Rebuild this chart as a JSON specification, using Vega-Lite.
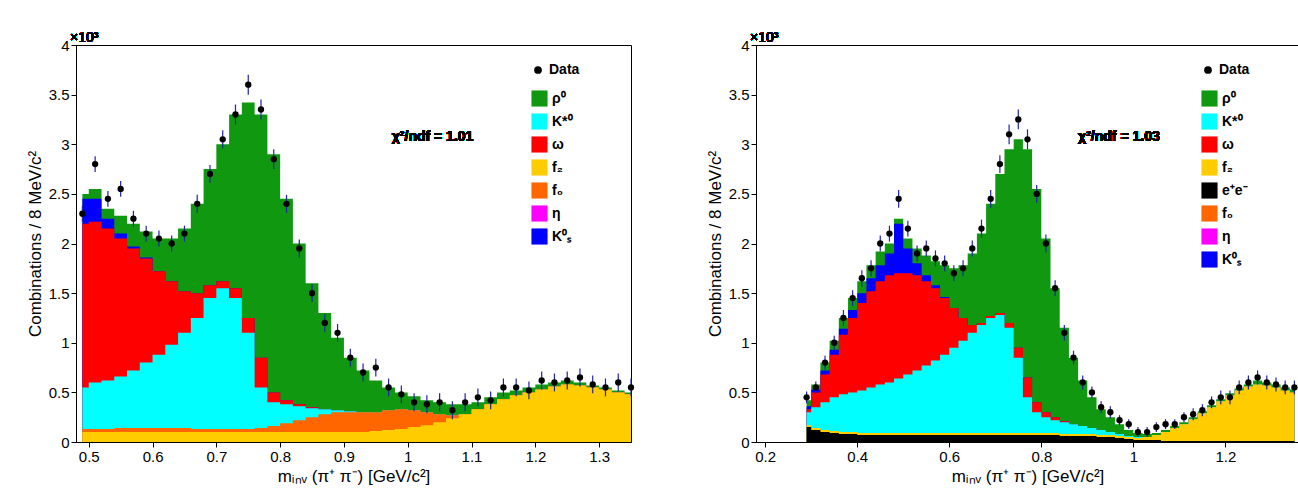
{
  "$schema": "https://vega.github.io/schema/vega-lite/v6.json",
  "padding": {"top": 30, "left": 25, "right": 0, "bottom": 5},
  "spacing": 70,
  "config": {
    "view": {"stroke": "black", "strokeWidth": 1},
    "font": "Liberation Sans",
    "axis": {"grid": false, "domainColor": "black", "tickColor": "black", "labelFontSize": 15, "titleFontSize": 17, "titleFontWeight": "normal", "labelColor": "black", "titleColor": "black"},
    "legend": {"orient": "none", "labelFontSize": 14, "labelFontWeight": "bold", "symbolType": "square", "symbolSize": 260, "symbolStrokeWidth": 0, "rowPadding": 6, "title": null, "padding": 0}
  },
  "resolve": {"scale": {"color": "independent", "shape": "independent"}, "legend": {"color": "independent", "shape": "independent"}},
  "hconcat": [
    {
      "width": 555, "height": 397,
      "data": {"values": [
        {"x":0.49,"f2":0.10,"f0":0.13,"kst":0.55,"om":2.20,"ks":2.45,"rho":2.50,"d":2.30,"e":0.08},
        {"x":0.51,"f2":0.10,"f0":0.13,"kst":0.60,"om":2.22,"ks":2.45,"rho":2.55,"d":2.80,"e":0.08},
        {"x":0.53,"f2":0.10,"f0":0.13,"kst":0.62,"om":2.15,"ks":2.25,"rho":2.35,"d":2.45,"e":0.08},
        {"x":0.55,"f2":0.10,"f0":0.14,"kst":0.66,"om":2.05,"ks":2.10,"rho":2.28,"d":2.55,"e":0.08},
        {"x":0.57,"f2":0.10,"f0":0.14,"kst":0.72,"om":1.95,"ks":1.97,"rho":2.20,"d":2.25,"e":0.08},
        {"x":0.59,"f2":0.10,"f0":0.14,"kst":0.80,"om":1.85,"ks":1.86,"rho":2.12,"d":2.10,"e":0.08},
        {"x":0.61,"f2":0.10,"f0":0.14,"kst":0.88,"om":1.72,"ks":1.72,"rho":2.05,"d":2.05,"e":0.08},
        {"x":0.63,"f2":0.10,"f0":0.14,"kst":0.98,"om":1.62,"ks":1.62,"rho":2.05,"d":2.00,"e":0.08},
        {"x":0.65,"f2":0.10,"f0":0.14,"kst":1.10,"om":1.52,"ks":1.52,"rho":2.15,"d":2.10,"e":0.08},
        {"x":0.67,"f2":0.10,"f0":0.13,"kst":1.25,"om":1.50,"ks":1.50,"rho":2.40,"d":2.40,"e":0.09},
        {"x":0.69,"f2":0.10,"f0":0.13,"kst":1.45,"om":1.58,"ks":1.58,"rho":2.75,"d":2.70,"e":0.09},
        {"x":0.71,"f2":0.10,"f0":0.13,"kst":1.55,"om":1.62,"ks":1.62,"rho":3.00,"d":3.05,"e":0.09},
        {"x":0.73,"f2":0.10,"f0":0.13,"kst":1.45,"om":1.55,"ks":1.55,"rho":3.30,"d":3.30,"e":0.1},
        {"x":0.75,"f2":0.10,"f0":0.13,"kst":1.10,"om":1.25,"ks":1.25,"rho":3.42,"d":3.60,"e":0.1},
        {"x":0.77,"f2":0.10,"f0":0.14,"kst":0.55,"om":0.85,"ks":0.85,"rho":3.30,"d":3.35,"e":0.1},
        {"x":0.79,"f2":0.10,"f0":0.16,"kst":0.40,"om":0.50,"ks":0.50,"rho":2.90,"d":2.85,"e":0.1},
        {"x":0.81,"f2":0.10,"f0":0.19,"kst":0.38,"om":0.42,"ks":0.42,"rho":2.45,"d":2.40,"e":0.09},
        {"x":0.83,"f2":0.10,"f0":0.22,"kst":0.36,"om":0.38,"ks":0.38,"rho":2.00,"d":1.95,"e":0.09},
        {"x":0.85,"f2":0.10,"f0":0.25,"kst":0.34,"om":0.35,"ks":0.35,"rho":1.60,"d":1.50,"e":0.09},
        {"x":0.87,"f2":0.10,"f0":0.28,"kst":0.33,"om":0.33,"ks":0.33,"rho":1.30,"d":1.20,"e":0.09},
        {"x":0.89,"f2":0.10,"f0":0.30,"kst":0.32,"om":0.32,"ks":0.32,"rho":1.05,"d":1.10,"e":0.09},
        {"x":0.91,"f2":0.10,"f0":0.30,"kst":0.31,"om":0.31,"ks":0.31,"rho":0.85,"d":0.85,"e":0.09},
        {"x":0.93,"f2":0.10,"f0":0.30,"kst":0.30,"om":0.30,"ks":0.30,"rho":0.72,"d":0.70,"e":0.09},
        {"x":0.95,"f2":0.11,"f0":0.30,"kst":0.30,"om":0.30,"ks":0.30,"rho":0.62,"d":0.75,"e":0.09},
        {"x":0.97,"f2":0.12,"f0":0.32,"kst":0.32,"om":0.32,"ks":0.32,"rho":0.55,"d":0.55,"e":0.09},
        {"x":0.99,"f2":0.13,"f0":0.33,"kst":0.33,"om":0.33,"ks":0.33,"rho":0.50,"d":0.48,"e":0.09},
        {"x":1.01,"f2":0.15,"f0":0.32,"kst":0.32,"om":0.32,"ks":0.32,"rho":0.46,"d":0.40,"e":0.09},
        {"x":1.03,"f2":0.17,"f0":0.30,"kst":0.30,"om":0.30,"ks":0.30,"rho":0.42,"d":0.38,"e":0.09},
        {"x":1.05,"f2":0.20,"f0":0.28,"kst":0.28,"om":0.28,"ks":0.28,"rho":0.40,"d":0.40,"e":0.09},
        {"x":1.07,"f2":0.24,"f0":0.27,"kst":0.27,"om":0.27,"ks":0.27,"rho":0.38,"d":0.32,"e":0.09},
        {"x":1.09,"f2":0.28,"f0":0.28,"kst":0.28,"om":0.28,"ks":0.28,"rho":0.38,"d":0.40,"e":0.09},
        {"x":1.11,"f2":0.33,"f0":0.33,"kst":0.33,"om":0.33,"ks":0.33,"rho":0.40,"d":0.45,"e":0.09},
        {"x":1.13,"f2":0.38,"f0":0.38,"kst":0.38,"om":0.38,"ks":0.38,"rho":0.45,"d":0.42,"e":0.09},
        {"x":1.15,"f2":0.43,"f0":0.43,"kst":0.43,"om":0.43,"ks":0.43,"rho":0.50,"d":0.55,"e":0.09},
        {"x":1.17,"f2":0.47,"f0":0.47,"kst":0.47,"om":0.47,"ks":0.47,"rho":0.52,"d":0.55,"e":0.09},
        {"x":1.19,"f2":0.50,"f0":0.50,"kst":0.50,"om":0.50,"ks":0.50,"rho":0.55,"d":0.52,"e":0.09},
        {"x":1.21,"f2":0.53,"f0":0.53,"kst":0.53,"om":0.53,"ks":0.53,"rho":0.58,"d":0.62,"e":0.09},
        {"x":1.23,"f2":0.56,"f0":0.56,"kst":0.56,"om":0.56,"ks":0.56,"rho":0.60,"d":0.60,"e":0.09},
        {"x":1.25,"f2":0.58,"f0":0.58,"kst":0.58,"om":0.58,"ks":0.58,"rho":0.62,"d":0.62,"e":0.09},
        {"x":1.27,"f2":0.57,"f0":0.57,"kst":0.57,"om":0.57,"ks":0.57,"rho":0.60,"d":0.65,"e":0.09},
        {"x":1.29,"f2":0.55,"f0":0.55,"kst":0.55,"om":0.55,"ks":0.55,"rho":0.57,"d":0.58,"e":0.09},
        {"x":1.31,"f2":0.53,"f0":0.53,"kst":0.53,"om":0.53,"ks":0.53,"rho":0.55,"d":0.55,"e":0.09},
        {"x":1.33,"f2":0.50,"f0":0.50,"kst":0.50,"om":0.50,"ks":0.50,"rho":0.52,"d":0.60,"e":0.09},
        {"x":1.35,"f2":0.48,"f0":0.48,"kst":0.48,"om":0.48,"ks":0.48,"rho":0.50,"d":0.55,"e":0.09}
      ]},
      "layer": [
        {
          "transform": [{"fold": ["rho", "ks", "om", "kst", "f0", "f2"], "as": ["comp", "val"]}],
          "mark": {"type": "area", "interpolate": "step", "clip": true},
          "encoding": {
            "x": {"field": "x", "type": "quantitative", "scale": {"domain": [0.48, 1.35], "nice": false, "zero": false},
                  "axis": {"values": [0.5,0.6,0.7,0.8,0.9,1.0,1.1,1.2,1.3], "format": "~g"}, "title": "mᵢₙᵥ (π⁺ π⁻) [GeV/c²]"},
            "y": {"field": "val", "type": "quantitative", "stack": null, "scale": {"domain": [0, 4], "nice": false},
                  "axis": {"values": [0,0.5,1,1.5,2,2.5,3,3.5,4], "format": "~g"}, "title": "Combinations / 8 MeV/c²"},
            "color": {"field": "comp", "type": "nominal",
                      "scale": {"domain": ["rho","kst","om","f2","f0","eta","ks"], "range": ["#109910","#00ffff","#ff0000","#ffcc00","#ff6600","#ff00ff","#0000ff"]},
                      "legend": {"labelExpr": "{'rho':'ρ⁰','kst':'K*⁰','om':'ω','f2':'f₂','f0':'f₀','eta':'η','ks':'K⁰ₛ'}[datum.label]", "legendX": 455, "legendY": 45}}
          }
        },
        {
          "mark": {"type": "errorbar", "color": "#2222aa", "thickness": 1.2},
          "encoding": {"x": {"field": "x", "type": "quantitative", "title": "mᵢₙᵥ (π⁺ π⁻) [GeV/c²]"}, "y": {"field": "d", "type": "quantitative", "title": "Combinations / 8 MeV/c²"}, "yError": {"field": "e"}}
        },
        {
          "mark": {"type": "point", "filled": true, "size": 40, "opacity": 1},
          "encoding": {"x": {"field": "x", "type": "quantitative", "title": "mᵢₙᵥ (π⁺ π⁻) [GeV/c²]"}, "y": {"field": "d", "type": "quantitative", "title": "Combinations / 8 MeV/c²"},
                       "color": {"value": "black"},
                       "shape": {"datum": "Data", "scale": {"range": ["circle"]}, "legend": {"symbolType": "circle", "symbolSize": 60, "symbolFillColor": "black", "legendX": 455, "legendY": 18}}}
        },
        {
          "mark": {"type": "text", "fontSize": 14, "fontWeight": "bold", "align": "left"},
          "encoding": {"x": {"datum": 0.975}, "y": {"datum": 3.07}, "text": {"value": "χ²/ndf = 1.01"}}
        },
        {
          "mark": {"type": "text", "fontSize": 14, "align": "left", "baseline": "bottom", "dx": -6, "clip": false},
          "encoding": {"x": {"datum": 0.48}, "y": {"datum": 4.0}, "text": {"value": "×10³"}}
        }
      ]
    },
    {
      "width": 543, "height": 397,
      "data": {"values": [
        {"x":0.29,"ee":0.15,"f2":0.17,"kst":0.30,"om":0.33,"ks":0.36,"rho":0.42,"d":0.45,"e":0.06},
        {"x":0.31,"ee":0.12,"f2":0.14,"kst":0.35,"om":0.50,"ks":0.53,"rho":0.58,"d":0.55,"e":0.06},
        {"x":0.33,"ee":0.10,"f2":0.12,"kst":0.40,"om":0.68,"ks":0.72,"rho":0.80,"d":0.80,"e":0.07},
        {"x":0.35,"ee":0.09,"f2":0.11,"kst":0.45,"om":0.88,"ks":0.93,"rho":1.02,"d":1.00,"e":0.07},
        {"x":0.37,"ee":0.08,"f2":0.10,"kst":0.48,"om":1.08,"ks":1.14,"rho":1.25,"d":1.25,"e":0.08},
        {"x":0.39,"ee":0.08,"f2":0.10,"kst":0.50,"om":1.25,"ks":1.33,"rho":1.45,"d":1.45,"e":0.08},
        {"x":0.41,"ee":0.07,"f2":0.09,"kst":0.52,"om":1.40,"ks":1.50,"rho":1.62,"d":1.65,"e":0.08},
        {"x":0.43,"ee":0.07,"f2":0.09,"kst":0.55,"om":1.52,"ks":1.65,"rho":1.78,"d":1.75,"e":0.08},
        {"x":0.45,"ee":0.07,"f2":0.09,"kst":0.58,"om":1.62,"ks":1.78,"rho":1.92,"d":2.00,"e":0.08},
        {"x":0.47,"ee":0.07,"f2":0.09,"kst":0.60,"om":1.68,"ks":1.90,"rho":2.00,"d":2.10,"e":0.08},
        {"x":0.49,"ee":0.07,"f2":0.09,"kst":0.64,"om":1.70,"ks":2.20,"rho":2.25,"d":2.45,"e":0.09},
        {"x":0.51,"ee":0.07,"f2":0.09,"kst":0.68,"om":1.70,"ks":1.95,"rho":2.05,"d":2.15,"e":0.08},
        {"x":0.53,"ee":0.07,"f2":0.09,"kst":0.72,"om":1.68,"ks":1.80,"rho":1.95,"d":1.90,"e":0.08},
        {"x":0.55,"ee":0.07,"f2":0.09,"kst":0.77,"om":1.62,"ks":1.68,"rho":1.88,"d":1.95,"e":0.08},
        {"x":0.57,"ee":0.07,"f2":0.09,"kst":0.82,"om":1.55,"ks":1.58,"rho":1.82,"d":1.85,"e":0.08},
        {"x":0.59,"ee":0.07,"f2":0.09,"kst":0.88,"om":1.45,"ks":1.46,"rho":1.78,"d":1.80,"e":0.08},
        {"x":0.61,"ee":0.07,"f2":0.09,"kst":0.95,"om":1.35,"ks":1.35,"rho":1.75,"d":1.70,"e":0.08},
        {"x":0.63,"ee":0.07,"f2":0.09,"kst":1.02,"om":1.25,"ks":1.25,"rho":1.78,"d":1.75,"e":0.08},
        {"x":0.65,"ee":0.07,"f2":0.09,"kst":1.10,"om":1.18,"ks":1.18,"rho":1.90,"d":1.95,"e":0.08},
        {"x":0.67,"ee":0.07,"f2":0.09,"kst":1.18,"om":1.20,"ks":1.20,"rho":2.10,"d":2.15,"e":0.09},
        {"x":0.69,"ee":0.07,"f2":0.09,"kst":1.25,"om":1.27,"ks":1.27,"rho":2.40,"d":2.45,"e":0.09},
        {"x":0.71,"ee":0.07,"f2":0.09,"kst":1.28,"om":1.30,"ks":1.30,"rho":2.70,"d":2.80,"e":0.09},
        {"x":0.73,"ee":0.07,"f2":0.09,"kst":1.15,"om":1.20,"ks":1.20,"rho":2.95,"d":3.10,"e":0.1},
        {"x":0.75,"ee":0.07,"f2":0.09,"kst":0.85,"om":0.95,"ks":0.95,"rho":3.05,"d":3.25,"e":0.1},
        {"x":0.77,"ee":0.07,"f2":0.09,"kst":0.45,"om":0.65,"ks":0.65,"rho":2.95,"d":3.05,"e":0.1},
        {"x":0.79,"ee":0.07,"f2":0.09,"kst":0.30,"om":0.40,"ks":0.40,"rho":2.55,"d":2.50,"e":0.09},
        {"x":0.81,"ee":0.07,"f2":0.09,"kst":0.25,"om":0.30,"ks":0.30,"rho":2.05,"d":2.00,"e":0.09},
        {"x":0.83,"ee":0.07,"f2":0.09,"kst":0.22,"om":0.25,"ks":0.25,"rho":1.55,"d":1.55,"e":0.08},
        {"x":0.85,"ee":0.06,"f2":0.08,"kst":0.20,"om":0.21,"ks":0.21,"rho":1.15,"d":1.10,"e":0.08},
        {"x":0.87,"ee":0.06,"f2":0.08,"kst":0.18,"om":0.18,"ks":0.18,"rho":0.85,"d":0.85,"e":0.07},
        {"x":0.89,"ee":0.06,"f2":0.08,"kst":0.16,"om":0.16,"ks":0.16,"rho":0.62,"d":0.60,"e":0.07},
        {"x":0.91,"ee":0.06,"f2":0.08,"kst":0.14,"om":0.14,"ks":0.14,"rho":0.45,"d":0.50,"e":0.06},
        {"x":0.93,"ee":0.05,"f2":0.07,"kst":0.12,"om":0.12,"ks":0.12,"rho":0.33,"d":0.35,"e":0.06},
        {"x":0.95,"ee":0.05,"f2":0.07,"kst":0.10,"om":0.10,"ks":0.10,"rho":0.25,"d":0.30,"e":0.06},
        {"x":0.97,"ee":0.04,"f2":0.06,"kst":0.08,"om":0.08,"ks":0.08,"rho":0.18,"d":0.22,"e":0.05},
        {"x":0.99,"ee":0.03,"f2":0.05,"kst":0.06,"om":0.06,"ks":0.06,"rho":0.12,"d":0.18,"e":0.05},
        {"x":1.01,"ee":0.02,"f2":0.04,"kst":0.05,"om":0.05,"ks":0.05,"rho":0.09,"d":0.10,"e":0.05},
        {"x":1.03,"ee":0.02,"f2":0.05,"kst":0.05,"om":0.05,"ks":0.05,"rho":0.08,"d":0.10,"e":0.05},
        {"x":1.05,"ee":0.02,"f2":0.07,"kst":0.07,"om":0.07,"ks":0.07,"rho":0.09,"d":0.15,"e":0.05},
        {"x":1.07,"ee":0.01,"f2":0.10,"kst":0.10,"om":0.10,"ks":0.10,"rho":0.12,"d":0.18,"e":0.05},
        {"x":1.09,"ee":0.01,"f2":0.14,"kst":0.14,"om":0.14,"ks":0.14,"rho":0.16,"d":0.18,"e":0.05},
        {"x":1.11,"ee":0.01,"f2":0.18,"kst":0.18,"om":0.18,"ks":0.18,"rho":0.20,"d":0.25,"e":0.05},
        {"x":1.13,"ee":0.01,"f2":0.23,"kst":0.23,"om":0.23,"ks":0.23,"rho":0.25,"d":0.28,"e":0.06},
        {"x":1.15,"ee":0.01,"f2":0.29,"kst":0.29,"om":0.29,"ks":0.29,"rho":0.31,"d":0.32,"e":0.06},
        {"x":1.17,"ee":0.01,"f2":0.35,"kst":0.35,"om":0.35,"ks":0.35,"rho":0.37,"d":0.40,"e":0.06},
        {"x":1.19,"ee":0.01,"f2":0.41,"kst":0.41,"om":0.41,"ks":0.41,"rho":0.43,"d":0.45,"e":0.07},
        {"x":1.21,"ee":0.01,"f2":0.47,"kst":0.47,"om":0.47,"ks":0.47,"rho":0.49,"d":0.45,"e":0.07},
        {"x":1.23,"ee":0.01,"f2":0.52,"kst":0.52,"om":0.52,"ks":0.52,"rho":0.54,"d":0.55,"e":0.07},
        {"x":1.25,"ee":0.01,"f2":0.56,"kst":0.56,"om":0.56,"ks":0.56,"rho":0.58,"d":0.60,"e":0.07},
        {"x":1.27,"ee":0.01,"f2":0.58,"kst":0.58,"om":0.58,"ks":0.58,"rho":0.62,"d":0.65,"e":0.07},
        {"x":1.29,"ee":0.01,"f2":0.57,"kst":0.57,"om":0.57,"ks":0.57,"rho":0.60,"d":0.60,"e":0.07},
        {"x":1.31,"ee":0.01,"f2":0.55,"kst":0.55,"om":0.55,"ks":0.55,"rho":0.58,"d":0.58,"e":0.07},
        {"x":1.33,"ee":0.01,"f2":0.52,"kst":0.52,"om":0.52,"ks":0.52,"rho":0.55,"d":0.55,"e":0.07},
        {"x":1.35,"ee":0.01,"f2":0.50,"kst":0.50,"om":0.50,"ks":0.50,"rho":0.53,"d":0.55,"e":0.07}
      ]},
      "layer": [
        {
          "transform": [{"fold": ["rho", "ks", "om", "kst", "f2", "ee"], "as": ["comp", "val"]}],
          "mark": {"type": "area", "interpolate": "step", "clip": true},
          "encoding": {
            "x": {"field": "x", "type": "quantitative", "scale": {"domain": [0.18, 1.36], "nice": false, "zero": false},
                  "axis": {"values": [0.2,0.4,0.6,0.8,1.0,1.2], "format": "~g"}, "title": "mᵢₙᵥ (π⁺ π⁻) [GeV/c²]"},
            "y": {"field": "val", "type": "quantitative", "stack": null, "scale": {"domain": [0, 4], "nice": false},
                  "axis": {"values": [0,0.5,1,1.5,2,2.5,3,3.5,4], "format": "~g"}, "title": "Combinations / 8 MeV/c²"},
            "color": {"field": "comp", "type": "nominal",
                      "scale": {"domain": ["rho","kst","om","f2","ee","f0","eta","ks"], "range": ["#109910","#00ffff","#ff0000","#ffcc00","#000000","#ff6600","#ff00ff","#0000ff"]},
                      "legend": {"labelExpr": "{'rho':'ρ⁰','kst':'K*⁰','om':'ω','f2':'f₂','ee':'e⁺e⁻','f0':'f₀','eta':'η','ks':'K⁰ₛ'}[datum.label]", "legendX": 445, "legendY": 45}}
          }
        },
        {
          "mark": {"type": "errorbar", "color": "#2222aa", "thickness": 1.2},
          "encoding": {"x": {"field": "x", "type": "quantitative", "title": "mᵢₙᵥ (π⁺ π⁻) [GeV/c²]"}, "y": {"field": "d", "type": "quantitative", "title": "Combinations / 8 MeV/c²"}, "yError": {"field": "e"}}
        },
        {
          "mark": {"type": "point", "filled": true, "size": 40, "opacity": 1},
          "encoding": {"x": {"field": "x", "type": "quantitative", "title": "mᵢₙᵥ (π⁺ π⁻) [GeV/c²]"}, "y": {"field": "d", "type": "quantitative", "title": "Combinations / 8 MeV/c²"},
                       "color": {"value": "black"},
                       "shape": {"datum": "Data", "scale": {"range": ["circle"]}, "legend": {"symbolType": "circle", "symbolSize": 60, "symbolFillColor": "black", "legendX": 445, "legendY": 18}}}
        },
        {
          "mark": {"type": "text", "fontSize": 14, "fontWeight": "bold", "align": "left"},
          "encoding": {"x": {"datum": 0.88}, "y": {"datum": 3.07}, "text": {"value": "χ²/ndf = 1.03"}}
        },
        {
          "mark": {"type": "text", "fontSize": 14, "align": "left", "baseline": "bottom", "dx": -6, "clip": false},
          "encoding": {"x": {"datum": 0.18}, "y": {"datum": 4.0}, "text": {"value": "×10³"}}
        }
      ]
    }
  ]
}
